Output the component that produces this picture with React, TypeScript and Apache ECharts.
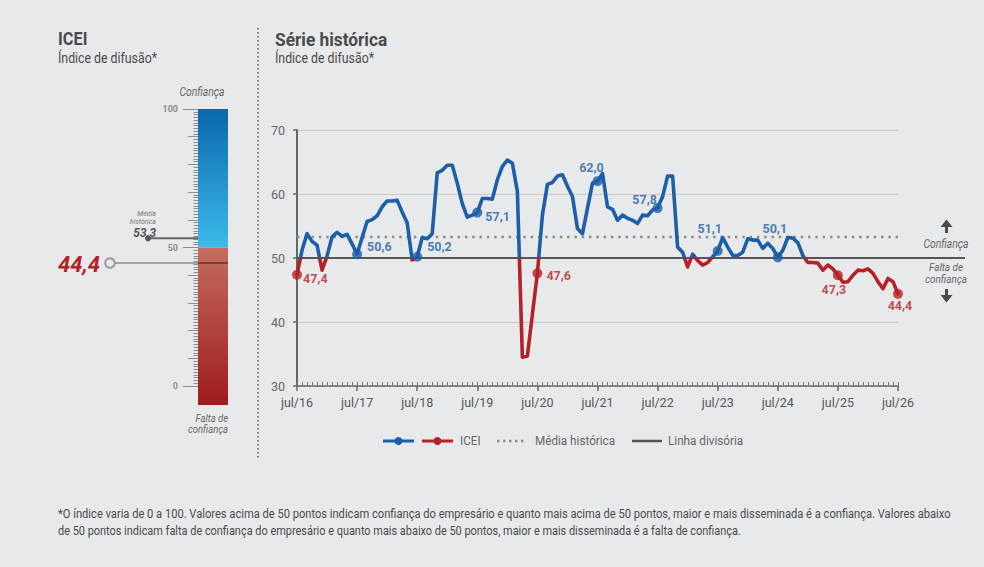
import React, { useEffect, useRef } from "react";
import * as echarts from "echarts";

// ---------- data ----------
const yearLabels = ["jul/16", "jul/17", "jul/18", "jul/19", "jul/20", "jul/21", "jul/22", "jul/23", "jul/24", "jul/25", "jul/26"];
const monthsPerYear = 12;

// ICEI monthly, jul/16 .. jul/26
const icei = [
  47.4, 51.2, 53.8, 52.6, 52.0, 48.1, 50.3, 53.3, 54.0, 53.4, 53.7, 52.2,
  50.6, 53.2, 55.7, 56.0, 56.6, 58.0, 58.9, 58.9, 59.0, 57.2, 55.5, 49.7,
  50.2, 53.2, 53.0, 53.8, 63.3, 63.7, 64.5, 64.5, 61.7, 58.5, 56.4, 56.7,
  57.1, 59.3, 59.3, 59.2, 62.2, 64.3, 65.3, 64.8, 60.4, 34.5, 34.7, 41.2,
  47.6, 56.7, 61.5, 61.8, 62.8, 63.0, 61.2, 59.6, 54.6, 53.8, 57.8, 61.7,
  62.0, 63.2, 58.0, 57.6, 55.9, 56.7, 56.2, 55.9, 55.4, 56.7, 56.6, 57.5,
  57.8, 59.6, 62.8, 62.8, 51.7, 50.9, 48.6, 50.6, 49.6, 48.9, 49.3, 50.2,
  51.1, 53.2, 51.7, 50.4, 50.4, 50.9, 53.0, 52.8, 52.8, 51.5, 52.3, 51.5,
  50.1, 51.2, 53.2, 53.1, 52.4, 50.4, 49.3, 49.3, 49.2, 48.1, 48.9, 48.3,
  47.3, 46.2, 46.3, 47.3, 48.1, 48.0, 48.3, 47.6, 46.3, 45.2, 46.8, 46.3,
  44.4,
];

const mediaHistorica = 53.3;
const linhaDivisoria = 50;
const yMin = 30;
const yMax = 70;
const yStep = 10;
const gaugeMin = 0;
const gaugeMax = 100;
const gaugeBands = [
  [0, 0, 50],
  [0, 50, 100],
];

// ---------- styles ----------
const FONT = "Roboto, 'Noto Sans', sans-serif";
const BG = "#e8e9ea";
const BLUE = "#1c5ea7";
const RED = "#b42227";
const TEXT = "#4a4a4a";
const GREY = "#666666";
const NARROW = 0.86; // horizontal squeeze for free-standing texts

// label placement for each July marker, in order
const labelPlacement = [
  { position: "right", offset: [-4, 4] },
  { position: "right", offset: [0, -8] },
  { position: "right", offset: [0, -10] },
  { position: "right", offset: [-2, 4] },
  { position: "right", offset: [-1, 2] },
  { position: "top", offset: [-6, 3] },
  { position: "top", offset: [-13, 8] },
  { position: "top", offset: [-8, -6] },
  { position: "top", offset: [-3, -12] },
  { position: "bottom", offset: [-4, -2] },
  { position: "bottom", offset: [2, -5] },
];

const fmt = (v: number) => v.toFixed(1).replace(".", ",");

function textStyle(text: string, o: any = {}) {
  return {
    text,
    fill: o.fill || TEXT,
    fontFamily: FONT,
    fontSize: o.fontSize || 13,
    fontWeight: o.fontWeight || "normal",
    fontStyle: o.fontStyle || "normal",
    align: o.align || "left",
    textAlign: o.align || "left",
    verticalAlign: "middle",
    textVerticalAlign: "middle",
  };
}

function buildOption() {
  const lastIdx = icei.length - 1;
  const highlightIdx = yearLabels.map((_, k) => k * monthsPerYear);

  const txt = (text: string, x: number, y: number, o: any = {}) => ({
    type: "text",
    x,
    y,
    scaleX: o.sx || NARROW,
    silent: true,
    style: textStyle(text, o),
  });

  const graphic: any[] = [
    // headings
    txt("ICEI", 58, 39, { fontSize: 19, fontWeight: "bold", sx: 0.86 }),
    txt("Índice de difusão*", 58, 58, { fontSize: 14.5, sx: 0.85 }),
    txt("Série histórica", 275, 39, { fontSize: 19, fontWeight: "bold", sx: 0.91 }),
    txt("Índice de difusão*", 275, 58, { fontSize: 14.5, sx: 0.85 }),
    // separator between panels
    {
      type: "line",
      silent: true,
      shape: { x1: 258, y1: 28, x2: 258, y2: 458 },
      style: { stroke: "#555", lineWidth: 1.5, lineDash: [1.5, 2.5] },
    },
    // gauge captions
    txt("Confiança", 202, 92, { fontSize: 12, fontStyle: "italic", fill: GREY, align: "center" }),
    txt("Falta de", 228, 418, { fontSize: 11, fontStyle: "italic", fill: GREY, align: "right" }),
    txt("confiança", 228, 429.5, { fontSize: 11, fontStyle: "italic", fill: GREY, align: "right" }),
    // right-side annotations
    {
      type: "polygon",
      silent: true,
      shape: { points: [[940.5, 227], [946.5, 219.5], [952.5, 227]] },
      style: { fill: "#4a4a4a" },
    },
    { type: "rect", silent: true, shape: { x: 945, y: 226, width: 3, height: 7 }, style: { fill: "#4a4a4a" } },
    txt("Confiança", 946, 244, { fontSize: 12, fontStyle: "italic", fill: GREY, align: "center" }),
    txt("Falta de", 946, 267, { fontSize: 11.5, fontStyle: "italic", fill: GREY, align: "center" }),
    txt("confiança", 946, 279, { fontSize: 11.5, fontStyle: "italic", fill: GREY, align: "center" }),
    { type: "rect", silent: true, shape: { x: 945, y: 289, width: 3, height: 7 }, style: { fill: "#4a4a4a" } },
    {
      type: "polygon",
      silent: true,
      shape: { points: [[940.5, 295], [946.5, 302.5], [952.5, 295]] },
      style: { fill: "#4a4a4a" },
    },
    // legend
    { type: "line", silent: true, shape: { x1: 383, y1: 441, x2: 414, y2: 441 }, style: { stroke: BLUE, lineWidth: 3 } },
    { type: "circle", silent: true, shape: { cx: 398.5, cy: 441, r: 4 }, style: { fill: BLUE } },
    { type: "line", silent: true, shape: { x1: 422, y1: 441, x2: 453, y2: 441 }, style: { stroke: RED, lineWidth: 3 } },
    { type: "circle", silent: true, shape: { cx: 437.5, cy: 441, r: 4 }, style: { fill: RED } },
    txt("ICEI", 460, 441, { fontSize: 13, fill: GREY, sx: 0.9 }),
    {
      type: "line",
      silent: true,
      shape: { x1: 497, y1: 441, x2: 525, y2: 441 },
      style: { stroke: "#8c8c8c", lineWidth: 2.5, lineDash: [2.5, 3.5] },
    },
    txt("Média histórica", 535, 441, { fontSize: 13, fill: GREY, sx: 0.9 }),
    { type: "line", silent: true, shape: { x1: 632, y1: 441, x2: 662, y2: 441 }, style: { stroke: "#555", lineWidth: 2.5 } },
    txt("Linha divisória", 668, 441, { fontSize: 13, fill: GREY, sx: 0.9 }),
    // footnote
    txt(
      "*O índice varia de 0 a 100. Valores acima de 50 pontos indicam confiança do empresário e quanto mais acima de 50 pontos, maior e mais disseminada é a confiança. Valores abaixo",
      58,
      514,
      { fontSize: 12.5, fill: TEXT, sx: 0.89 }
    ),
    txt(
      "de 50 pontos indicam falta de confiança do empresário e quanto mais abaixo de 50 pontos, maior e mais disseminada é a falta de confiança.",
      58,
      531,
      { fontSize: 12.5, fill: TEXT, sx: 0.875 }
    ),
  ];

  const gaugeStops = (lo: number) =>
    lo >= linhaDivisoria
      ? [
          { offset: 0, color: "#0a67ad" },
          { offset: 1, color: "#3cbaea" },
        ]
      : [
          { offset: 0, color: "#c36d5e" },
          { offset: 1, color: "#a01b1e" },
        ];

  return {
    animation: false,
    backgroundColor: BG,
    textStyle: { fontFamily: FONT },
    graphic,
    grid: [
      { left: 297, top: 130, width: 601, height: 256 },
      { left: 198, top: 109, width: 30, height: 277 },
    ],
    visualMap: {
      type: "piecewise",
      show: false,
      dimension: 1,
      seriesIndex: 0,
      pieces: [
        { gte: gaugeMin, lt: linhaDivisoria, color: RED },
        { gte: linhaDivisoria, lte: gaugeMax, color: BLUE },
      ],
    },
    xAxis: [
      {
        type: "value",
        gridIndex: 0,
        min: 0,
        max: lastIdx,
        interval: monthsPerYear,
        axisLine: { lineStyle: { color: "#666", width: 1.5 } },
        axisTick: { length: 5, lineStyle: { color: "#666", width: 1.5 } },
        axisLabel: {
          color: "#555",
          fontSize: 12.5,
          fontFamily: FONT,
          margin: 10,
          formatter: (v: number) => yearLabels[Math.round(v / monthsPerYear)] || "",
        },
        splitLine: { show: false },
      },
      {
        type: "value",
        gridIndex: 0,
        position: "bottom",
        min: 0,
        max: lastIdx,
        interval: 1,
        axisLine: { show: false },
        axisTick: { inside: true, length: 4, lineStyle: { color: "#777", width: 1 } },
        axisLabel: { show: false },
        splitLine: { show: false },
      },
      { type: "value", gridIndex: 1, min: 0, max: 1, show: false },
    ],
    yAxis: [
      {
        type: "value",
        gridIndex: 0,
        min: yMin,
        max: yMax,
        interval: yStep,
        axisLine: { show: true, lineStyle: { color: "#666", width: 2 } },
        axisTick: { show: true, length: 4, lineStyle: { color: "#666", width: 1.5 } },
        axisLabel: { color: "#666", fontSize: 12.5, fontFamily: FONT, margin: 12 },
        splitLine: { lineStyle: { color: "#c8c8c9", width: 1 } },
      },
      {
        type: "value",
        gridIndex: 1,
        position: "left",
        min: gaugeMin,
        max: gaugeMax,
        interval: 10,
        axisLine: { show: false },
        axisTick: { show: true, length: 10, lineStyle: { color: "#8e8e8e", width: 1 } },
        minorTick: { show: true, splitNumber: 10, length: 4.5, lineStyle: { color: "#8a8a8a", width: 1 } },
        axisLabel: { show: false },
        splitLine: { show: false },
      },
      {
        type: "value",
        gridIndex: 1,
        position: "left",
        min: gaugeMin,
        max: gaugeMax,
        interval: 50,
        axisLine: { show: false },
        axisTick: { show: true, length: 15, lineStyle: { color: "#8a8a8a", width: 1 } },
        axisLabel: { color: "#8e8e8e", fontSize: 9, fontWeight: "bold", fontFamily: FONT, margin: 20 },
        splitLine: { show: false },
      },
    ],
    series: [
      {
        name: "ICEI",
        type: "line",
        xAxisIndex: 0,
        yAxisIndex: 0,
        z: 4,
        symbol: "none",
        showSymbol: false,
        data: icei.map((v, i) => [i, v]),
        lineStyle: { width: 3.6, join: "round", cap: "round" },
      },
      {
        name: "destaques",
        type: "scatter",
        xAxisIndex: 0,
        yAxisIndex: 0,
        z: 5,
        symbolSize: 10,
        data: highlightIdx.map((i, k) => {
          const v = icei[i];
          const c = v < linhaDivisoria ? RED : BLUE;
          return {
            value: [i, v],
            itemStyle: { color: c },
            label: {
              show: true,
              formatter: fmt(v),
              color: c,
              fontFamily: FONT,
              fontWeight: "bold",
              fontSize: 12.5,
              distance: 5,
              position: labelPlacement[k].position,
              offset: labelPlacement[k].offset,
            },
          };
        }),
      },
      {
        name: "Média histórica",
        type: "line",
        xAxisIndex: 0,
        yAxisIndex: 0,
        z: 2,
        symbol: "none",
        data: [
          [0, mediaHistorica],
          [lastIdx, mediaHistorica],
        ],
        lineStyle: { color: "#8c8c8c", width: 2.5, type: [2.5, 4.8] },
      },
      {
        name: "Linha divisória",
        type: "custom",
        xAxisIndex: 0,
        yAxisIndex: 0,
        z: 3,
        silent: true,
        data: [[0, linhaDivisoria]],
        renderItem: (params: any, api: any) => {
          const p = api.coord([api.value(0), api.value(1)]);
          const cs = params.coordSys;
          return {
            type: "line",
            shape: { x1: p[0], y1: p[1], x2: cs.x + cs.width + 67, y2: p[1] },
            style: { stroke: "#555", lineWidth: 2.2 },
          };
        },
      },
      {
        name: "escala",
        type: "custom",
        xAxisIndex: 2,
        yAxisIndex: 1,
        z: 1,
        silent: true,
        encode: { x: 0, y: [1, 2] },
        data: gaugeBands,
        renderItem: (params: any, api: any) => {
          const lo = api.value(1);
          const hi = api.value(2);
          const tl = api.coord([0, hi]);
          const br = api.coord([1, lo]);
          const extra = lo <= gaugeMin ? 19 : 0;
          return {
            type: "rect",
            shape: { x: tl[0], y: tl[1], width: br[0] - tl[0], height: br[1] - tl[1] + extra },
            style: { fill: new echarts.graphic.LinearGradient(0, 0, 0, 1, gaugeStops(lo)) },
          };
        },
      },
      {
        name: "média no gauge",
        type: "custom",
        xAxisIndex: 2,
        yAxisIndex: 1,
        z: 3,
        silent: true,
        data: [[0, mediaHistorica]],
        renderItem: (params: any, api: any) => {
          const v = api.value(1);
          const p = api.coord([0, v]);
          const dx = p[0] - 50;
          const t = (text: string, y: number, size: number, weight: string, color: string) => ({
            type: "text",
            x: dx + 8,
            y,
            scaleX: 0.88,
            style: textStyle(text, { fill: color, fontSize: size, fontWeight: weight, fontStyle: "italic", align: "right" }),
          });
          return {
            type: "group",
            children: [
              { type: "line", shape: { x1: dx, y1: p[1], x2: p[0], y2: p[1] }, style: { stroke: "#666", lineWidth: 2 } },
              { type: "circle", shape: { cx: dx, cy: p[1], r: 3 }, style: { fill: "#555" } },
              t("Média", p[1] - 25, 8, "normal", "#777"),
              t("histórica", p[1] - 17.5, 8, "normal", "#777"),
              t(fmt(v), p[1] - 6.5, 13.5, "bold", "#555"),
            ],
          };
        },
      },
      {
        name: "ICEI atual",
        type: "custom",
        xAxisIndex: 2,
        yAxisIndex: 1,
        z: 3,
        silent: true,
        data: [[0, icei[lastIdx]]],
        renderItem: (params: any, api: any) => {
          const v = api.value(1);
          const p = api.coord([0, v]);
          const cs = params.coordSys;
          return {
            type: "group",
            children: [
              { type: "line", shape: { x1: p[0] - 83, y1: p[1], x2: p[0], y2: p[1] }, style: { stroke: "#8e8e8e", lineWidth: 1.6 } },
              {
                type: "line",
                shape: { x1: p[0], y1: p[1], x2: cs.x + cs.width, y2: p[1] },
                style: { stroke: "rgba(70,30,30,0.7)", lineWidth: 1.6 },
              },
              { type: "circle", shape: { cx: p[0] - 88, cy: p[1], r: 4.8 }, style: { fill: BG, stroke: "#9a9a9a", lineWidth: 2 } },
              {
                type: "text",
                x: p[0] - 98,
                y: p[1] + 1,
                scaleX: 1,
                style: textStyle(fmt(v), { fill: RED, fontSize: 22, fontWeight: "bold", fontStyle: "italic", align: "right" }),
              },
            ],
          };
        },
      },
    ],
  };
}

export default function App() {
  const ref = useRef<HTMLDivElement>(null);
  useEffect(() => {
    if (!ref.current) return;
    const chart = echarts.init(ref.current, undefined, { renderer: "svg" });
    chart.setOption(buildOption() as any);
    return () => chart.dispose();
  }, []);
  return (
    <div
      ref={ref}
      style={{ position: "fixed", left: 0, top: 0, width: 984, height: 567, background: BG }}
    />
  );
}
